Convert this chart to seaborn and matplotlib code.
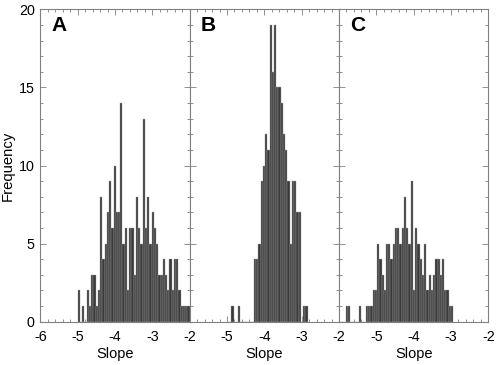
import numpy as np
import pandas as pd
import matplotlib
matplotlib.use("Agg")
import matplotlib.pyplot as plt
from matplotlib.ticker import MultipleLocator
import seaborn as sns

# Histogram counts (bin width 0.06 in slope)
bin_width = 0.06

a_start = -5.0
a_counts = [2, 0, 1, 0, 2, 1, 3, 3, 1, 2,
            8, 4, 5, 7, 9, 6, 10, 7, 7, 14,
            5, 6, 2, 6, 6, 3, 8, 6, 5, 13,
            6, 8, 5, 7, 6, 5, 3, 3, 4, 3,
            2, 4, 2, 4, 4, 2, 1, 1, 1, 1]

b_start = -5.0
b_counts = [0, 0, 1, 0, 0, 1, 0, 0, 0, 0,
            0, 0, 4, 4, 5, 9, 10, 12, 11, 19,
            16, 19, 15, 15, 14, 12, 11, 9, 5, 9,
            9, 7, 7, 0, 1, 1]

c_start = -6.0
c_counts = [0, 0, 0, 1, 1, 0, 0, 0, 0, 1,
            0, 0, 1, 1, 1, 2, 2, 5, 4, 3,
            2, 5, 5, 4, 5, 6, 6, 5, 6, 8,
            6, 5, 9, 2, 6, 5, 4, 3, 5, 2,
            3, 2, 3, 4, 4, 3, 4, 2, 2, 1, 1]

panels = ["A", "B", "C"]
starts = [a_start, b_start, c_start]
counts = [a_counts, b_counts, c_counts]

sns.set_style("ticks")
plt.rcParams["font.family"] = ["Liberation Sans", "DejaVu Sans"]
plt.rcParams["axes.unicode_minus"] = False

fig, axs = plt.subplots(1, 3, figsize=(4.98, 3.65), dpi=100, sharey=True)
fig.subplots_adjust(left=0.081, right=0.9805, bottom=0.1186, top=0.9745, wspace=0)

for i, ax in enumerate(axs):
    n = len(counts[i])
    centers = starts[i] + bin_width * (np.arange(n) + 0.5)
    df = pd.DataFrame({"slope": centers, "freq": counts[i]})
    sns.histplot(data=df, x="slope", weights="freq", binwidth=bin_width,
                 binrange=(starts[i], starts[i] + n * bin_width), ax=ax,
                 color="#3a3a3a", edgecolor="#a0a0a0", linewidth=0.3, alpha=1)
    ax.set_xlim(-6, -2)
    ax.set_ylim(0, 20)
    ax.set_xticks([-6, -5, -4, -3, -2])
    ax.set_yticks([0, 5, 10, 15, 20])
    ax.xaxis.set_minor_locator(MultipleLocator(0.2))
    ax.yaxis.set_minor_locator(MultipleLocator(1))
    ax.tick_params(which="both", direction="in", top=True, right=True,
                   color="#808080", labelcolor="black", labelsize=10.3, width=0.6)
    ax.tick_params(which="major", length=4.5)
    ax.tick_params(which="minor", length=2.2)
    ax.tick_params(axis="x", pad=6)
    ax.tick_params(axis="y", pad=4)
    for s in ax.spines.values():
        s.set_color("#808080")
        s.set_linewidth(0.8)
    ax.set_xlabel("Slope", fontsize=10.5, color="black", labelpad=2)
    ax.set_ylabel("")
    ax.text(0.075, 0.947, panels[i], transform=ax.transAxes, fontsize=15,
            fontweight="bold", ha="left", va="center", color="black")
    if i > 0:
        ax.set_xticklabels(["", "-5", "-4", "-3", "-2"])
        ax.tick_params(labelleft=False)

axs[0].set_ylabel("Frequency", fontsize=10.7, color="black", labelpad=3)

plt.savefig("out.png", dpi=100)
